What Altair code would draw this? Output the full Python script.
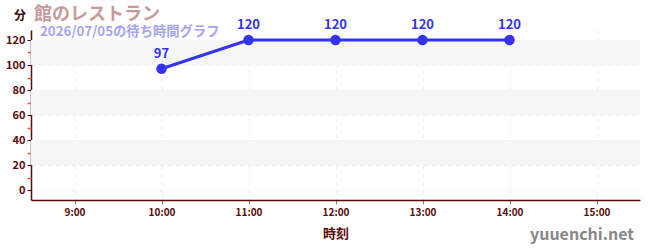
import altair as alt
import pandas as pd

hours = [10, 11, 12, 13, 14]
waits = [97, 120, 120, 120, 120]
band_lo = [20, 60, 100]
band_hi = [40, 80, 120]
x_ticks = [9, 10, 11, 12, 13, 14, 15]
y_ticks = [0, 20, 40, 60, 80, 100, 120]
y_minor = [10, 30, 50, 70, 90, 110]

FONT = "Noto Sans CJK JP"
AXC = "#5a0a0a"
LINE = "#3333f0"

df = pd.DataFrame({"h": hours, "w": waits})
bands = pd.DataFrame({"lo": band_lo, "hi": band_hi})

xs = alt.Scale(domain=[8.5, 15.5], nice=False, zero=False)
ys = alt.Scale(domain=[-8, 128], nice=False, zero=False)

xaxis = alt.Axis(values=x_ticks, labelExpr="datum.value + ':00'", title="時刻",
                 titleFont=FONT, titleFontSize=13, titleColor=AXC, titleFontWeight="bold",
                 titlePadding=10, labelFont=FONT, labelFontSize=10, labelColor=AXC,
                 labelFontWeight="bold",
                 domainColor=AXC, domainWidth=1.5, tickColor="#888888", tickSize=4,
                 grid=True, gridDash=[4, 4], gridColor="#eeeeee", labelPadding=3)
yaxis = alt.Axis(values=y_ticks, title=None, labelFont=FONT, labelFontSize=11,
                 labelColor=AXC, labelFontWeight="bold", domainColor=AXC, domainWidth=1.5, tickColor=AXC,
                 tickSize=4, grid=True, gridDash=[4, 4], gridColor="#eeeeee", labelPadding=2)

band = alt.Chart(bands).mark_rect(color="#f6f6f6").encode(
    y=alt.Y("lo:Q", scale=ys, axis=yaxis), y2="hi:Q")

minor = alt.Chart(pd.DataFrame({"v": y_minor})).mark_point(opacity=0).encode(
    y=alt.Y("v:Q", scale=ys, axis=alt.Axis(values=y_minor, orient="left", labels=False,
                                           domain=False, grid=False, tickColor="#ee5555",
                                           tickSize=4, tickWidth=1.5, title=None)))

base = alt.Chart(df).encode(
    x=alt.X("h:Q", scale=xs, axis=xaxis),
    y=alt.Y("w:Q", scale=ys, axis=None))
line = base.mark_line(color=LINE, strokeWidth=3)
pts = base.mark_circle(color=LINE, size=110, opacity=1)
lbl = base.mark_text(dy=-15, color=LINE, font=FONT, fontSize=13, fontWeight="bold").encode(text="w:Q")

ann = pd.DataFrame({"t": ["x"]})
unit = alt.Chart(ann).mark_text(font=FONT, fontSize=12, fontWeight="bold", color="#3a0a0a",
                                align="left").encode(x=alt.value(-17), y=alt.value(-14), text=alt.value("分"))
title = alt.Chart(ann).mark_text(font=FONT, fontSize=18, fontWeight="bold", color="#c89a9a",
                                 align="left").encode(x=alt.value(3), y=alt.value(-15), text=alt.value("館のレストラン"))
sub = alt.Chart(ann).mark_text(font=FONT, fontSize=13.3, fontWeight="bold", color="#a4a4f5",
                               align="left").encode(x=alt.value(9), y=alt.value(2), text=alt.value("2026/07/05の待ち時間グラフ"))
site = alt.Chart(ann).mark_text(font=FONT, fontSize=16, fontWeight="bold", color="#888888",
                                align="right").encode(x=alt.value(603), y=alt.value(35 + 170), text=alt.value("yuuenchi.net"))

chart = alt.layer(band, minor, line, pts, lbl, unit, title, sub, site).resolve_axis(y="independent").properties(
    width=609, height=170,
    padding={"left": 31, "top": 30, "right": 10, "bottom": 50},
    autosize=alt.AutoSizeParams(type="none"),
    background="white",
).configure_view(stroke=None)

chart.save("out.html", embed_options={"renderer": "svg", "actions": False})
